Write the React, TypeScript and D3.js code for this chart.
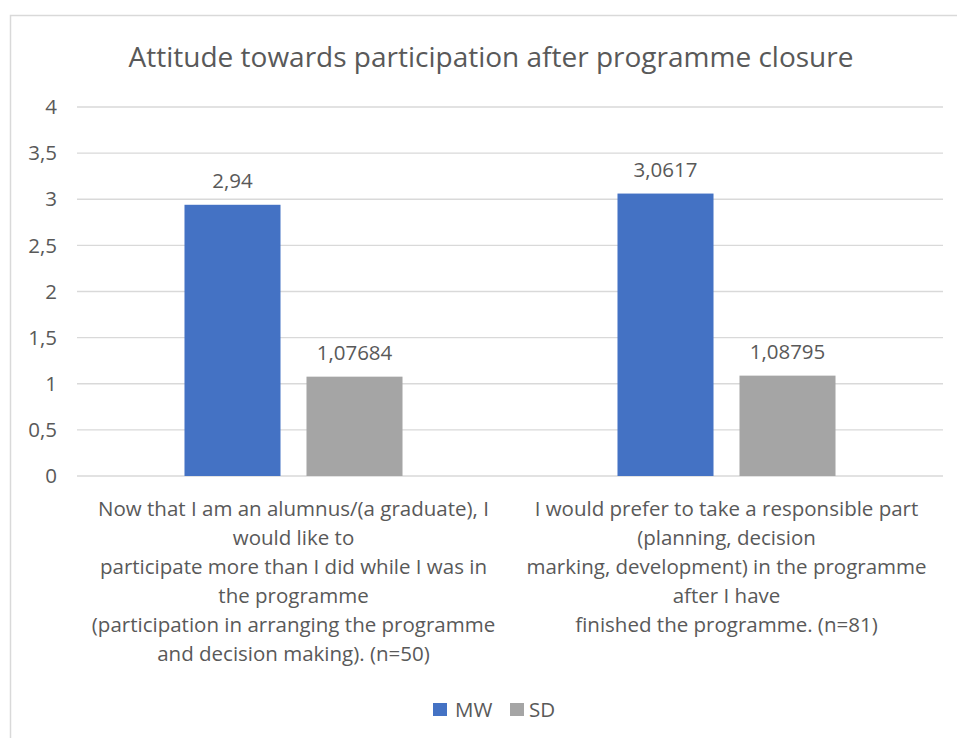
import React from "react";
import * as d3 from "d3";

const title = "Attitude towards participation after programme closure";
const categories = ["cat1", "cat2"];
const categoryLines: string[][] = [
  [
    "Now that I am an alumnus/(a graduate), I",
    "would like to",
    "participate more than I did while I was in",
    "the programme",
    "(participation in arranging the programme",
    "and decision making). (n=50)",
  ],
  [
    "I would prefer to take a responsible part",
    "(planning, decision",
    "marking, development) in the programme",
    "after I have",
    "finished the programme. (n=81)",
  ],
];
const seriesNames = ["MW", "SD"];
const mwValues = [2.94, 3.0617];
const sdValues = [1.07684, 1.08795];
const valueLabels = [["2,94", "1,07684"], ["3,0617", "1,08795"]];
const yTicks = [0, 0.5, 1, 1.5, 2, 2.5, 3, 3.5, 4];
const colors = ["#4472C4", "#A5A5A5"];

const W = 957;
const H = 738;
const FONT = "'Open Sans', 'Liberation Sans', sans-serif";
const TXT = "#595959";
const FS = 20.5;

export default function App() {
  const left = 77, right = 943, top = 107, bottom = 476;
  const y = d3.scaleLinear().domain([0, 4]).range([bottom, top]);
  const x0 = d3.scaleBand<string>().domain(categories).range([left, right]).padding(0);
  const x1 = d3
    .scaleBand<string>()
    .domain(seriesNames)
    .range([0, x0.bandwidth()])
    .paddingInner(0.213)
    .paddingOuter(0.881);
  const fmt = (v: number) => String(v).replace(".", ",");
  const series = [mwValues, sdValues];

  return (
    <svg
      width={W}
      height={H}
      style={{ position: "absolute", left: 0, top: 0, background: "#fff" }}
      fontFamily={FONT}
    >
      <rect x={10.5} y={15.5} width={W + 10} height={H + 10} fill="#fff" stroke="#D9D9D9" strokeWidth={1.5} />
      <text x={491} y={67} textAnchor="middle" fontSize={28} fill={TXT}>
        {title}
      </text>
      {yTicks.map((t) => (
        <g key={t}>
          <line x1={left} x2={right} y1={y(t)} y2={y(t)} stroke="#D9D9D9" strokeWidth={1.3} />
          <text x={57} y={y(t)} dy="0.35em" textAnchor="end" fontSize={FS} fill={TXT}>
            {fmt(t)}
          </text>
        </g>
      ))}
      {categories.map((c, ci) => (
        <g key={c} transform={`translate(${x0(c)},0)`}>
          {seriesNames.map((s, si) => {
            const v = series[si][ci];
            const bx = x1(s)!;
            return (
              <g key={s}>
                <rect x={bx} y={y(v)} width={x1.bandwidth()} height={y(0) - y(v)} fill={colors[si]} />
                <text
                  x={bx + x1.bandwidth() / 2}
                  y={y(v) - 24}
                  dy="0.35em"
                  textAnchor="middle"
                  fontSize={FS}
                  fill={TXT}
                >
                  {valueLabels[ci][si]}
                </text>
              </g>
            );
          })}
          {categoryLines[ci].map((ln, li) => (
            <text
              key={li}
              x={x0.bandwidth() / 2}
              y={509 + li * 29}
              dy="0.35em"
              textAnchor="middle"
              fontSize={FS}
              fill={TXT}
            >
              {ln}
            </text>
          ))}
        </g>
      ))}
      <g>
        <rect x={433} y={703} width={14} height={13} fill={colors[0]} />
        <text x={455} y={709.5} dy="0.35em" fontSize={FS} fill={TXT}>MW</text>
        <rect x={510} y={703} width={14} height={13} fill={colors[1]} />
        <text x={529} y={709.5} dy="0.35em" fontSize={FS} fill={TXT}>SD</text>
      </g>
    </svg>
  );
}
